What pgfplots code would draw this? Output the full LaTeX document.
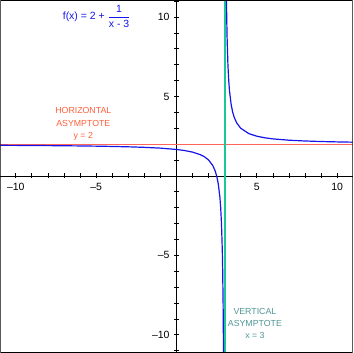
\documentclass[border=0pt]{standalone}
\usepackage{pgfplots}
\pgfplotsset{compat=1.18}
\usepackage{fontspec}
\setmainfont{Liberation Sans}
\definecolor{curveblue}{RGB}{20,20,235}
\definecolor{hline}{RGB}{255,100,90}
\definecolor{htext}{RGB}{255,95,60}
\definecolor{vline}{RGB}{25,200,150}
\definecolor{vtext}{RGB}{80,150,150}
\begin{document}
\begin{tikzpicture}
\begin{axis}[
  scale only axis, width=353bp, height=353bp,
  xmin=-10.96, xmax=10.96, ymin=-11.12, ymax=11.05,
  axis lines=middle, axis line style={black, line width=0.8bp, -},
  xtick={-10,-5,5,10}, ytick={-10,-5,5,10},
  xticklabels={\textendash10,\textendash5,5,10},
  yticklabels={\textendash10,\textendash5,5,10},
  minor xtick={-11,-9,-8,-7,-6,-4,-3,-2,-1,1,2,3,4,6,7,8,9,11},
  minor ytick={-11,-9,-8,-7,-6,-4,-3,-2,-1,1,2,3,4,6,7,8,9,11},
  tick align=center, major tick length=5bp, minor tick length=5bp,
  tick style={black, line width=0.8bp},
  ticklabel style={font=\fontsize{10.5bp}{12bp}\selectfont},
  xticklabel style={anchor=north, yshift=-1bp},
  yticklabel style={anchor=east, xshift=-1bp},
  clip=true,
]
\addplot[hline, line width=1bp] coordinates {(-11,2) (11,2)};
\addplot[vline, line width=1.8bp] coordinates {(3,-11.2) (3,11.2)};
\addplot[curveblue, line width=1.2bp] coordinates {
(-11,1.9286) (-10,1.9231) (-9,1.9167) (-8,1.9091) (-7,1.9) (-6,1.8889)
(-5,1.875) (-4,1.8571) (-3,1.8333) (-2,1.8) (-1,1.75) (0,1.6667)
(0.5,1.6) (1,1.5) (1.5,1.3333) (1.75,1.2) (2,1) (2.25,0.6667) (2.4,0.3333)
(2.5,0) (2.6,-0.5) (2.7,-1.3333) (2.75,-2) (2.8,-3) (2.85,-4.6667)
(2.875,-6) (2.9,-8) (2.91,-9.1111) (2.92,-10.5) (2.925,-11.3333)};
\addplot[curveblue, line width=1.2bp] coordinates {
(3.075,15.3333) (3.08,14.5) (3.09,13.1111) (3.1,12) (3.125,10) (3.15,8.6667)
(3.2,7) (3.25,6) (3.3,5.3333) (3.4,4.5) (3.5,4) (3.6,3.6667) (3.75,3.3333)
(4,3) (4.5,2.6667) (5,2.5) (5.5,2.4) (6,2.3333) (7,2.25) (8,2.2) (9,2.1667)
(10,2.1429) (11,2.125)};
\node[curveblue, font=\fontsize{10.5bp}{12bp}\selectfont] at (axis cs:-4.97,10.05)
  {$\displaystyle\mbox{f(x) = 2 + }\frac{\mbox{1}}{\mbox{x - 3}}$};
\node[htext, align=center, font=\fontsize{8.8bp}{12.5bp}\selectfont] at (axis cs:-5.8,3.25)
  {HORIZONTAL\\ASYMPTOTE\\y = 2};
\node[vtext, align=center, font=\fontsize{8.8bp}{11.7bp}\selectfont] at (axis cs:4.88,-9.28)
  {VERTICAL\\ASYMPTOTE\\x = 3};
\draw[black, line width=1.6bp] (rel axis cs:0,0) rectangle (rel axis cs:1,1);
\end{axis}
\end{tikzpicture}
\end{document}
